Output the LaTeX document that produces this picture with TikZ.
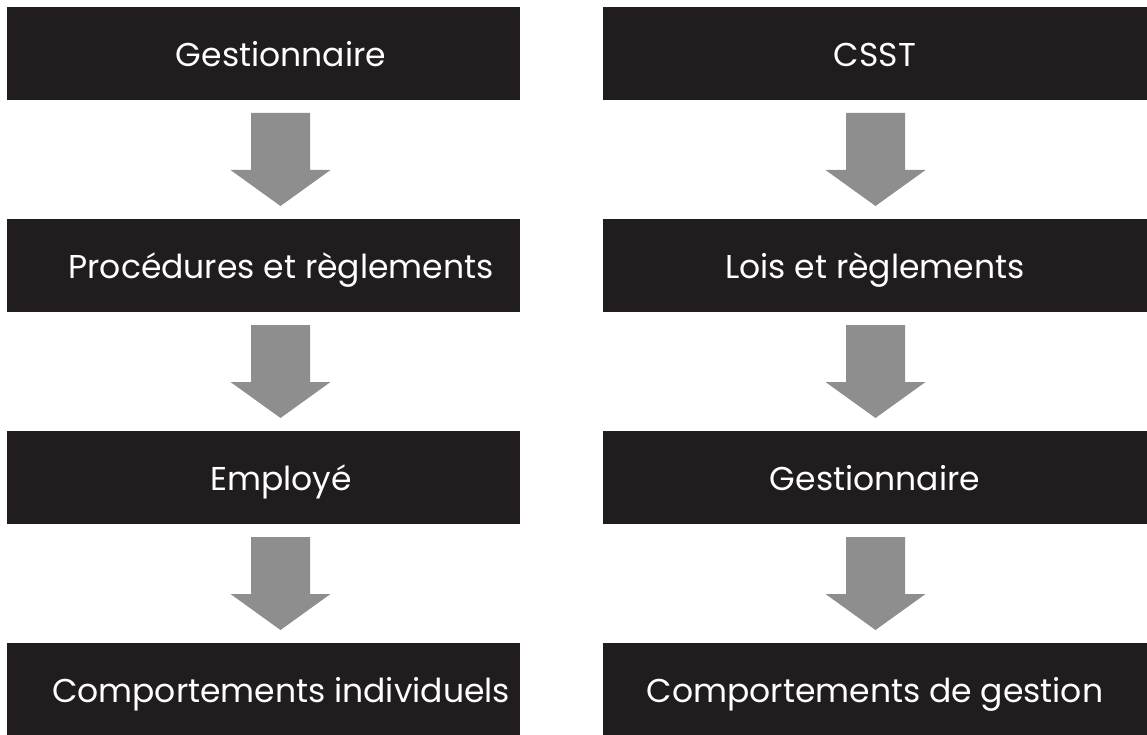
\documentclass[tikz,border=0pt]{standalone}
\usepackage{fontspec}
\setmainfont{Poppins}
\begin{document}
\begin{tikzpicture}[x=1pt,y=-1pt,
  box/.style={fill=boxfill,draw=none,inner sep=0pt,minimum height=93pt},
  lbox/.style={box,minimum width=513pt},
  rbox/.style={box,minimum width=544pt},
  lbl/.style={text=white,inner sep=0pt,text height=26pt,text depth=0pt,
    font=\fontsize{33}{38}\selectfont}]
\definecolor{boxfill}{HTML}{211C1D}
\definecolor{arrgrey}{HTML}{8E8E8F}
\useasboundingbox (0,0) rectangle (1147,735);
% left column
\node[lbox] (l1) at (263.5,53.5)  {};
\node[lbox] (l2) at (263.5,265.5) {};
\node[lbox] (l3) at (263.5,477.5) {};
\node[lbox] (l4) at (263.5,689.5) {};
\node[lbl] (l1t) at ([xshift=17.5pt]l1.center) {Gestionnaire};
\node[lbl] (l2t) at ([xshift=17.5pt]l2.center) {Procédures et règlements};
\node[lbl] (l3t) at ([xshift=17.5pt]l3.center) {Employé};
\node[lbl] (l4t) at ([xshift=17.5pt]l4.center) {Comportements individuels};
% right column
\node[rbox] (r1) at (875,53.5)  {};
\node[rbox] (r2) at (875,265.5) {};
\node[rbox] (r3) at (875,477.5) {};
\node[rbox] (r4) at (875,689.5) {};
\node[lbl] (r1t) at (r1.center) {CSST};
\node[lbl] (r2t) at (r2.center) {Lois et règlements};
\node[lbl] (r3t) at (r3.center) {Gestionnaire};
\node[lbl] (r4t) at (r4.center) {Comportements de gestion};
% arrows
\newcommand{\bigarrow}[2]{%
  \fill[arrgrey] (#1-29.5,#2) -- (#1+29.5,#2) -- (#1+29.5,#2+57) -- (#1+50,#2+57)
    -- (#1,#2+93) -- (#1-50,#2+57) -- (#1-29.5,#2+57) -- cycle;}
\bigarrow{280.5}{113}
\bigarrow{280.5}{325}
\bigarrow{280.5}{537}
\bigarrow{875.5}{113}
\bigarrow{875.5}{325}
\bigarrow{875.5}{537}
\end{tikzpicture}
\end{document}
